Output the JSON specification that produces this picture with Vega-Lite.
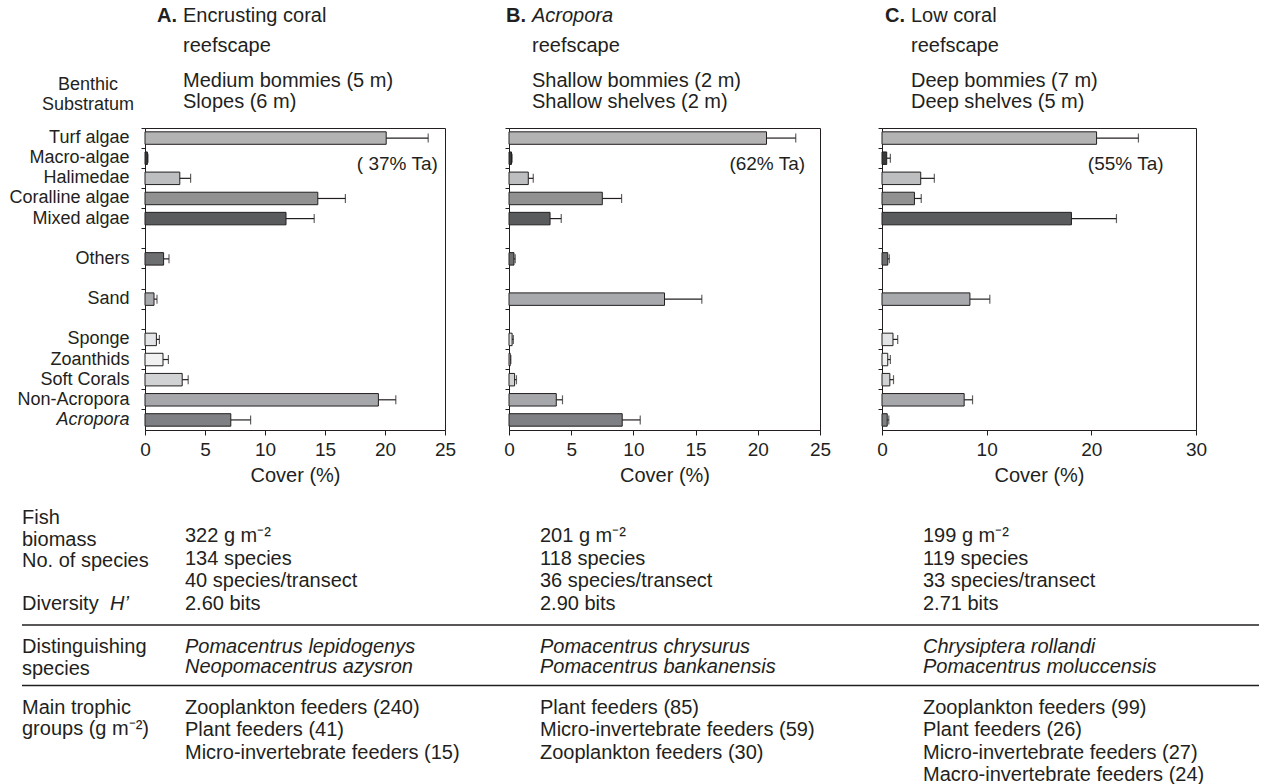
{
  "$schema": "https://vega.github.io/schema/vega-lite/v6.json",
  "padding": {"left": 8, "top": 0, "right": 0, "bottom": 0},
  "background": "white",
  "spacing": 0,
  "resolve": {"scale": {"x": "independent", "y": "independent"}},
  "config": {
    "font": "Liberation Sans",
    "view": {"stroke": null},
    "axis": {"labelFont": "Liberation Sans", "titleFont": "Liberation Sans", "labelFontSize": 19, "titleFontSize": 20, "titleFontWeight": "normal", "labelColor": "#231f20", "titleColor": "#231f20", "domainColor": "#231f20", "tickColor": "#231f20", "grid": false},
    "text": {"font": "Liberation Sans", "fontSize": 20, "color": "#231f20"}
  },
  "datasets": {
    "cover": [
      {"panel": "A", "cat": "Turf algae", "value": 20.1, "upper": 23.6},
      {"panel": "A", "cat": "Macro-algae", "value": 0.2, "upper": 0.25},
      {"panel": "A", "cat": "Halimedae", "value": 2.9, "upper": 3.8},
      {"panel": "A", "cat": "Coralline algae", "value": 14.4, "upper": 16.7},
      {"panel": "A", "cat": "Mixed algae", "value": 11.75, "upper": 14.1},
      {"panel": "A", "cat": "Others", "value": 1.55, "upper": 2.0},
      {"panel": "A", "cat": "Sand", "value": 0.75, "upper": 1.0},
      {"panel": "A", "cat": "Sponge", "value": 0.95, "upper": 1.2},
      {"panel": "A", "cat": "Zoanthids", "value": 1.5, "upper": 1.95},
      {"panel": "A", "cat": "Soft Corals", "value": 3.1, "upper": 3.6},
      {"panel": "A", "cat": "Non-Acropora", "value": 19.45, "upper": 20.9},
      {"panel": "A", "cat": "Acropora", "value": 7.15, "upper": 8.8},
      {"panel": "B", "cat": "Turf algae", "value": 20.7, "upper": 23.05},
      {"panel": "B", "cat": "Macro-algae", "value": 0.2, "upper": 0.25},
      {"panel": "B", "cat": "Halimedae", "value": 1.55, "upper": 1.95},
      {"panel": "B", "cat": "Coralline algae", "value": 7.5, "upper": 9.05},
      {"panel": "B", "cat": "Mixed algae", "value": 3.3, "upper": 4.2},
      {"panel": "B", "cat": "Others", "value": 0.4, "upper": 0.5},
      {"panel": "B", "cat": "Sand", "value": 12.5, "upper": 15.5},
      {"panel": "B", "cat": "Sponge", "value": 0.25, "upper": 0.35},
      {"panel": "B", "cat": "Zoanthids", "value": 0.1, "upper": 0.15},
      {"panel": "B", "cat": "Soft Corals", "value": 0.45, "upper": 0.6},
      {"panel": "B", "cat": "Non-Acropora", "value": 3.8, "upper": 4.3},
      {"panel": "B", "cat": "Acropora", "value": 9.1, "upper": 10.55},
      {"panel": "C", "cat": "Turf algae", "value": 20.5, "upper": 24.5},
      {"panel": "C", "cat": "Macro-algae", "value": 0.45, "upper": 0.8},
      {"panel": "C", "cat": "Halimedae", "value": 3.7, "upper": 5.0},
      {"panel": "C", "cat": "Coralline algae", "value": 3.1, "upper": 3.75},
      {"panel": "C", "cat": "Mixed algae", "value": 18.1, "upper": 22.4},
      {"panel": "C", "cat": "Others", "value": 0.55, "upper": 0.7},
      {"panel": "C", "cat": "Sand", "value": 8.4, "upper": 10.3},
      {"panel": "C", "cat": "Sponge", "value": 1.05, "upper": 1.5},
      {"panel": "C", "cat": "Zoanthids", "value": 0.55, "upper": 0.8},
      {"panel": "C", "cat": "Soft Corals", "value": 0.75, "upper": 1.1},
      {"panel": "C", "cat": "Non-Acropora", "value": 7.85, "upper": 8.65},
      {"panel": "C", "cat": "Acropora", "value": 0.5, "upper": 0.65}
    ],
    "notes": [
      {"panel": "A", "cat": "Macro-algae", "note": "( 37% Ta)", "at": 24.4},
      {"panel": "B", "cat": "Macro-algae", "note": "(62% Ta)", "at": 23.8},
      {"panel": "C", "cat": "Macro-algae", "note": "(55% Ta)", "at": 26.9}
    ],
    "header": [
      {"col": 0, "row": 1, "kind": "side", "text": "Benthic\nSubstratum"},
      {"col": 1, "row": 0, "kind": "letter", "text": "A."},
      {"col": 1, "row": 0, "kind": "title", "text": "Encrusting coral\nreefscape"},
      {"col": 1, "row": 1, "kind": "site", "text": "Medium bommies (5 m)\nSlopes (6 m)"},
      {"col": 2, "row": 0, "kind": "letter", "text": "B."},
      {"col": 2, "row": 0, "kind": "taxon", "text": "Acropora"},
      {"col": 2, "row": 0, "kind": "title", "text": "\nreefscape"},
      {"col": 2, "row": 1, "kind": "site", "text": "Shallow bommies (2 m)\nShallow shelves (2 m)"},
      {"col": 3, "row": 0, "kind": "letter", "text": "C."},
      {"col": 3, "row": 0, "kind": "title", "text": "Low coral\nreefscape"},
      {"col": 3, "row": 1, "kind": "site", "text": "Deep bommies (7 m)\nDeep shelves (5 m)"}
    ],
    "separators": [{"block": 3, "from": 0, "to": 5}, {"block": 4, "from": 0, "to": 5}],
    "footer": [
      {"col": 0, "block": 0, "kind": "label", "text": "Fish\nbiomass\nNo. of species"},
      {"col": 0, "block": 2, "kind": "label", "text": "Diversity"},
      {"col": 1, "block": 2, "kind": "labelItalic", "text": "H’"},
      {"col": 0, "block": 3, "kind": "label", "text": "Distinguishing\nspecies"},
      {"col": 0, "block": 4, "kind": "label", "text": "Main trophic\ngroups (g m⁻²)"},
      {"col": 2, "block": 1, "kind": "value", "text": "322 g m⁻²\n134 species\n40 species/transect\n2.60 bits"},
      {"col": 3, "block": 1, "kind": "value", "text": "201 g m⁻²\n118 species\n36 species/transect\n2.90 bits"},
      {"col": 4, "block": 1, "kind": "value", "text": "199 g m⁻²\n119 species\n33 species/transect\n2.71 bits"},
      {"col": 2, "block": 3, "kind": "species", "text": "Pomacentrus lepidogenys\nNeopomacentrus azysron"},
      {"col": 3, "block": 3, "kind": "species", "text": "Pomacentrus chrysurus\nPomacentrus bankanensis"},
      {"col": 4, "block": 3, "kind": "species", "text": "Chrysiptera rollandi\nPomacentrus moluccensis"},
      {"col": 2, "block": 4, "kind": "value", "text": "Zooplankton feeders (240)\nPlant feeders (41)\nMicro-invertebrate feeders (15)"},
      {"col": 3, "block": 4, "kind": "value", "text": "Plant feeders (85)\nMicro-invertebrate feeders (59)\nZooplankton feeders (30)"},
      {"col": 4, "block": 4, "kind": "value", "text": "Zooplankton feeders (99)\nPlant feeders (26)\nMicro-invertebrate feeders (27)\nMacro-invertebrate feeders (24)"}
    ]
  },
  "vconcat": [
    {
      "width": 1100,
      "height": 127,
      "data": {"name": "header"},
      "encoding": {
        "x": {"field": "col", "type": "quantitative", "scale": {"domain": [0, 1, 2, 3], "range": [-57, 38, 387, 766]}, "axis": null},
        "y": {"field": "row", "type": "quantitative", "scale": {"domain": [0, 1], "range": [5.5, 70.5]}, "axis": null},
        "text": {"field": "text"}
      },
      "layer": [
        {"transform": [{"filter": "datum.kind == 'letter'"}], "mark": {"type": "text", "align": "right", "baseline": "top", "fontWeight": "bold", "dx": -6}},
        {"transform": [{"filter": "datum.kind == 'title'"}], "mark": {"type": "text", "align": "left", "baseline": "top", "lineBreak": "\n", "lineHeight": 30}},
        {"transform": [{"filter": "datum.kind == 'taxon'"}], "mark": {"type": "text", "align": "left", "baseline": "top", "fontStyle": "italic"}},
        {"transform": [{"filter": "datum.kind == 'site'"}], "mark": {"type": "text", "align": "left", "baseline": "top", "lineBreak": "\n", "lineHeight": 21}},
        {"transform": [{"filter": "datum.kind == 'side'"}], "mark": {"type": "text", "align": "center", "baseline": "top", "lineBreak": "\n", "lineHeight": 20, "dy": 5, "fontSize": 18}}
      ]
    },
    {
      "spacing": 44,
      "resolve": {"scale": {"x": "independent"}},
      "hconcat": [
        {
          "width": 300,
          "height": 302,
          "view": {"stroke": "#231f20", "strokeWidth": 1},
          "encoding": {
            "y": {"field": "cat", "type": "nominal", "scale": {"domain": ["Turf algae", "Macro-algae", "Halimedae", "Coralline algae", "Mixed algae", "gap1", "Others", "gap2", "Sand", "gap3", "Sponge", "Zoanthids", "Soft Corals", "Non-Acropora", "Acropora"], "paddingInner": 0, "paddingOuter": 0},
              "axis": {"title": null, "bandPosition": 0, "tickSize": 4, "labelPadding": 12, "labelFontSize": 18, "minExtent": 134, "maxExtent": 134, "labelExpr": "indexof(datum.label, 'gap') == 0 ? '' : datum.label", "labelFontStyle": {"condition": {"test": "datum.value == 'Acropora'", "value": "italic"}, "value": "normal"}}}
          },
          "layer": [
            {"data": {"name": "cover"}, "transform": [{"filter": "datum.panel == 'A'"}],
              "mark": {"type": "bar", "height": {"band": 0.62}, "stroke": "#231f20", "strokeWidth": 1},
              "encoding": {
                "x": {"field": "value", "type": "quantitative", "scale": {"domain": [0, 25], "nice": false}, "axis": {"title": "Cover (%)", "values": [0, 5, 10, 15, 20, 25], "tickSize": 5, "labelPadding": 5, "titlePadding": 6, "labelFlush": false}},
                "color": {"field": "cat", "type": "nominal", "legend": null, "scale": {"domain": ["Turf algae", "Macro-algae", "Halimedae", "Coralline algae", "Mixed algae", "Others", "Sand", "Sponge", "Zoanthids", "Soft Corals", "Non-Acropora", "Acropora"], "range": ["#b3b3b3", "#3a3a3a", "#bcbec0", "#919191", "#5a5b5d", "#6d6e70", "#a7a9ac", "#e3e4e5", "#f1f1f2", "#d1d2d4", "#a5a7aa", "#7e8083"]}}
              }},
            {"data": {"name": "cover"}, "transform": [{"filter": "datum.panel == 'A'"}],
              "mark": {"type": "rule", "color": "#231f20", "strokeWidth": 1.2},
              "encoding": {"x": {"field": "value", "type": "quantitative"}, "x2": {"field": "upper"}}},
            {"data": {"name": "cover"}, "transform": [{"filter": "datum.panel == 'A'"}],
              "mark": {"type": "tick", "orient": "vertical", "color": "#231f20", "thickness": 1.2, "size": 9},
              "encoding": {"x": {"field": "upper", "type": "quantitative"}}},
            {"data": {"name": "notes"}, "transform": [{"filter": "datum.panel == 'A'"}],
              "mark": {"type": "text", "align": "right", "baseline": "middle", "dy": 6, "fontSize": 19},
              "encoding": {"x": {"field": "at", "type": "quantitative"}, "text": {"field": "note"}}}
          ]
        },
        {
          "width": 311,
          "height": 302,
          "view": {"stroke": "#231f20", "strokeWidth": 1},
          "encoding": {
            "y": {"field": "cat", "type": "nominal", "scale": {"domain": ["Turf algae", "Macro-algae", "Halimedae", "Coralline algae", "Mixed algae", "gap1", "Others", "gap2", "Sand", "gap3", "Sponge", "Zoanthids", "Soft Corals", "Non-Acropora", "Acropora"], "paddingInner": 0, "paddingOuter": 0},
              "axis": {"title": null, "labels": false, "bandPosition": 0, "tickSize": 4, "minExtent": 7.5, "maxExtent": 7.5}}
          },
          "layer": [
            {"data": {"name": "cover"}, "transform": [{"filter": "datum.panel == 'B'"}],
              "mark": {"type": "bar", "height": {"band": 0.62}, "stroke": "#231f20", "strokeWidth": 1},
              "encoding": {
                "x": {"field": "value", "type": "quantitative", "scale": {"domain": [0, 25], "nice": false}, "axis": {"title": "Cover (%)", "values": [0, 5, 10, 15, 20, 25], "tickSize": 5, "labelPadding": 5, "titlePadding": 6, "labelFlush": false}},
                "color": {"field": "cat", "type": "nominal", "legend": null, "scale": {"domain": ["Turf algae", "Macro-algae", "Halimedae", "Coralline algae", "Mixed algae", "Others", "Sand", "Sponge", "Zoanthids", "Soft Corals", "Non-Acropora", "Acropora"], "range": ["#b3b3b3", "#3a3a3a", "#bcbec0", "#919191", "#5a5b5d", "#6d6e70", "#a7a9ac", "#e3e4e5", "#f1f1f2", "#d1d2d4", "#a5a7aa", "#7e8083"]}}
              }},
            {"data": {"name": "cover"}, "transform": [{"filter": "datum.panel == 'B'"}],
              "mark": {"type": "rule", "color": "#231f20", "strokeWidth": 1.2},
              "encoding": {"x": {"field": "value", "type": "quantitative"}, "x2": {"field": "upper"}}},
            {"data": {"name": "cover"}, "transform": [{"filter": "datum.panel == 'B'"}],
              "mark": {"type": "tick", "orient": "vertical", "color": "#231f20", "thickness": 1.2, "size": 9},
              "encoding": {"x": {"field": "upper", "type": "quantitative"}}},
            {"data": {"name": "notes"}, "transform": [{"filter": "datum.panel == 'B'"}],
              "mark": {"type": "text", "align": "right", "baseline": "middle", "dy": 6, "fontSize": 19},
              "encoding": {"x": {"field": "at", "type": "quantitative"}, "text": {"field": "note"}}}
          ]
        },
        {
          "width": 314,
          "height": 302,
          "view": {"stroke": "#231f20", "strokeWidth": 1},
          "encoding": {
            "y": {"field": "cat", "type": "nominal", "scale": {"domain": ["Turf algae", "Macro-algae", "Halimedae", "Coralline algae", "Mixed algae", "gap1", "Others", "gap2", "Sand", "gap3", "Sponge", "Zoanthids", "Soft Corals", "Non-Acropora", "Acropora"], "paddingInner": 0, "paddingOuter": 0},
              "axis": {"title": null, "labels": false, "bandPosition": 0, "tickSize": 4, "minExtent": 2.7, "maxExtent": 2.7}}
          },
          "layer": [
            {"data": {"name": "cover"}, "transform": [{"filter": "datum.panel == 'C'"}],
              "mark": {"type": "bar", "height": {"band": 0.62}, "stroke": "#231f20", "strokeWidth": 1},
              "encoding": {
                "x": {"field": "value", "type": "quantitative", "scale": {"domain": [0, 30], "nice": false}, "axis": {"title": "Cover (%)", "values": [0, 10, 20, 30], "tickSize": 5, "labelPadding": 5, "titlePadding": 6, "labelFlush": false}},
                "color": {"field": "cat", "type": "nominal", "legend": null, "scale": {"domain": ["Turf algae", "Macro-algae", "Halimedae", "Coralline algae", "Mixed algae", "Others", "Sand", "Sponge", "Zoanthids", "Soft Corals", "Non-Acropora", "Acropora"], "range": ["#b3b3b3", "#3a3a3a", "#bcbec0", "#919191", "#5a5b5d", "#6d6e70", "#a7a9ac", "#e3e4e5", "#f1f1f2", "#d1d2d4", "#a5a7aa", "#7e8083"]}}
              }},
            {"data": {"name": "cover"}, "transform": [{"filter": "datum.panel == 'C'"}],
              "mark": {"type": "rule", "color": "#231f20", "strokeWidth": 1.2},
              "encoding": {"x": {"field": "value", "type": "quantitative"}, "x2": {"field": "upper"}}},
            {"data": {"name": "cover"}, "transform": [{"filter": "datum.panel == 'C'"}],
              "mark": {"type": "tick", "orient": "vertical", "color": "#231f20", "thickness": 1.2, "size": 9},
              "encoding": {"x": {"field": "upper", "type": "quantitative"}}},
            {"data": {"name": "notes"}, "transform": [{"filter": "datum.panel == 'C'"}],
              "mark": {"type": "text", "align": "right", "baseline": "middle", "dy": 6, "fontSize": 19},
              "encoding": {"x": {"field": "at", "type": "quantitative"}, "text": {"field": "note"}}}
          ]
        }
      ]
    },
    {
      "width": 1100,
      "height": 290,
      "encoding": {
        "x": {"field": "col", "type": "quantitative", "scale": {"domain": [0, 1, 2, 3, 4, 5], "range": [-123, -35, 40, 395, 778, 1114]}, "axis": null},
        "y": {"field": "block", "type": "quantitative", "scale": {"domain": [0, 1, 2, 3, 4], "range": [22.4, 40.4, 108.4, 151, 211.5]}, "axis": null}
      },
      "layer": [
        {"data": {"name": "separators"},
          "mark": {"type": "rule", "color": "#231f20", "strokeWidth": 1.5, "yOffset": -12},
          "encoding": {"x": {"field": "from", "type": "quantitative"}, "x2": {"field": "to"}, "y": {"field": "block", "type": "quantitative"}}},
        {"data": {"name": "footer"}, "transform": [{"filter": "datum.kind == 'label'"}],
          "mark": {"type": "text", "align": "left", "baseline": "top", "lineBreak": "\n", "lineHeight": 21.5},
          "encoding": {"text": {"field": "text"}}},
        {"data": {"name": "footer"}, "transform": [{"filter": "datum.kind == 'labelItalic'"}],
          "mark": {"type": "text", "align": "left", "baseline": "top", "fontStyle": "italic"},
          "encoding": {"text": {"field": "text"}}},
        {"data": {"name": "footer"}, "transform": [{"filter": "datum.kind == 'value'"}],
          "mark": {"type": "text", "align": "left", "baseline": "top", "lineBreak": "\n", "lineHeight": 22.5},
          "encoding": {"text": {"field": "text"}}},
        {"data": {"name": "footer"}, "transform": [{"filter": "datum.kind == 'species'"}],
          "mark": {"type": "text", "align": "left", "baseline": "top", "lineBreak": "\n", "lineHeight": 20, "fontStyle": "italic"},
          "encoding": {"text": {"field": "text"}}}
      ]
    }
  ]
}
